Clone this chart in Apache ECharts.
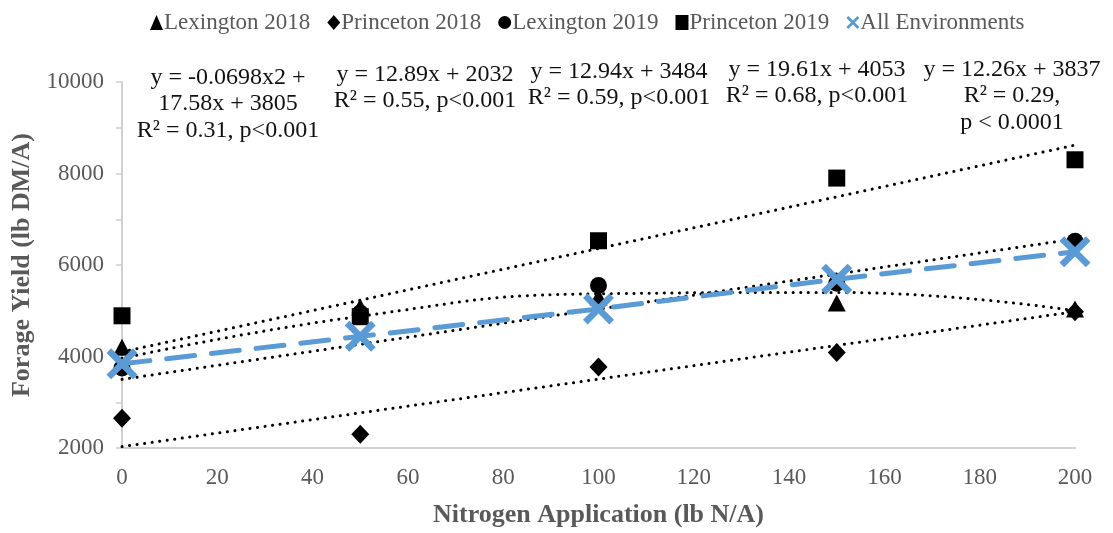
<!DOCTYPE html>
<html>
<head>
<meta charset="utf-8">
<script src="https://cdn.jsdelivr.net/npm/echarts@6/dist/echarts.min.js"></script>
<style>
  html, body { margin: 0; padding: 0; background: #ffffff; }
  #chart { width: 1113px; height: 533px; }
</style>
</head>
<body>
<div id="chart"></div>
<script>
// Nitrogen rates (lb N/A) and mean forage yield (lb DM/A) per environment
const nitrogen = [0, 50, 100, 150, 200];
const lexington2018 = [4200, 5080, 5300, 5170, 5040];
const princeton2018 = [2650, 2300, 3770, 4090, 4980];
const lexington2019 = [3750, 4950, 5550, 5600, 6520];
const princeton2019 = [4890, 4870, 6530, 7900, 8300];
const allEnvironments = [3840, 4440, 5040, 5690, 6290];

// Fitted trend lines: linear fits at the ends of the N range, quadratic at each rate
const trendEnds = [0, 200];
const trendPrinceton2019 = [4100, 8620];
const trendLexington2019 = [3500, 6570];
const trendPrinceton2018 = [2030, 4980];
const trendLexington2018 = [3960, 4880, 5370, 5400, 5000];

// Regression equations written above the plot
const equationLines = [
  ['y = -0.0698x2 +', '17.58x + 3805', 'R\u00b2 = 0.31, p<0.001'],
  ['y = 12.89x + 2032', 'R\u00b2 = 0.55, p<0.001'],
  ['y = 12.94x + 3484', 'R\u00b2 = 0.59, p<0.001'],
  ['y = 19.61x + 4053', 'R\u00b2 = 0.68, p<0.001'],
  ['y = 12.26x + 3837', 'R\u00b2 = 0.29,', 'p < 0.0001']
];
const equationAnchors = [[228, 64], [425, 61], [619, 58], [817, 56], [1012, 56]];

const xTickStep = 20;
const yMin = 2000, yMax = 10000, yTickStep = 1000;

const SERIF = '"Liberation Serif", "Times New Roman", serif';
const GREY = '#595959';
const BLUE = '#5B9BD5';
const X_MARK = 'path://M0,15 L15,0 L50,35 L85,0 L100,15 L65,50 L100,85 L85,100 L50,65 L15,100 L0,85 L35,50 Z';

const pairs = ys => nitrogen.map((x, i) => [x, ys[i]]);
const ends = ys => trendEnds.map((x, i) => [x, ys[i]]);

const dotted = { color: '#000', width: 3, type: [0.1, 7.5], cap: 'round' };

function scatter(name, ys, symbol, size) {
  return {
    name, type: 'scatter', data: pairs(ys), symbol, symbolSize: size,
    itemStyle: { color: '#000', opacity: 1 }, z: 2, silent: true
  };
}
function trend(data, smooth) {
  return {
    type: 'line', data, smooth: !!smooth, symbol: 'none', silent: true,
    lineStyle: dotted, z: 3
  };
}

const chart = echarts.init(document.getElementById('chart'), null, { renderer: 'canvas' });
chart.setOption({
  animation: false,
  backgroundColor: '#ffffff',
  grid: { left: 122, right: 38, top: 82, bottom: 80 },
  legend: {
    left: 145, top: 6, itemGap: 17, itemWidth: 13, itemHeight: 15,
    textStyle: { fontFamily: SERIF, fontSize: 23, color: GREY, padding: [0, 0, 0, -4] },
    data: [
      { name: 'Lexington 2018', icon: 'triangle' },
      { name: 'Princeton 2018', icon: 'diamond' },
      { name: 'Lexington 2019', icon: 'circle' },
      { name: 'Princeton 2019', icon: 'rect' },
      { name: 'All Environments', icon: X_MARK, itemStyle: { color: BLUE } }
    ]
  },
  xAxis: {
    type: 'value', min: 0, max: 200, interval: xTickStep,
    name: 'Nitrogen Application (lb N/A)', nameLocation: 'middle', nameGap: 54,
    nameTextStyle: { fontFamily: SERIF, fontSize: 26, fontWeight: 'bold', color: GREY },
    axisLine: { lineStyle: { color: '#D0D0D0', width: 2 } },
    axisTick: { show: false },
    axisLabel: { fontFamily: SERIF, fontSize: 23, color: GREY, margin: 18 },
    splitLine: { show: false }
  },
  yAxis: {
    type: 'value', min: yMin, max: yMax, interval: yTickStep,
    name: 'Forage Yield (lb DM/A)', nameLocation: 'middle', nameGap: 86,
    nameTextStyle: { fontFamily: SERIF, fontSize: 26, fontWeight: 'bold', color: GREY },
    axisLine: { show: true, lineStyle: { color: '#D0D0D0', width: 2 } },
    axisTick: { show: true, length: 6, lineStyle: { color: '#D0D0D0', width: 1.5 } },
    axisLabel: {
      fontFamily: SERIF, fontSize: 23, color: GREY, margin: 18,
      formatter: v => (v % 2000 === 0 ? String(v) : '')
    },
    splitLine: { show: false }
  },
  graphic: equationLines.map((lines, i) => ({
    type: 'text', silent: true,
    style: {
      text: lines.join('\n'),
      x: equationAnchors[i][0], y: equationAnchors[i][1],
      textAlign: 'center', textVerticalAlign: 'top',
      font: '24px ' + SERIF, lineHeight: 26.5, fill: '#111'
    }
  })),
  series: [
    scatter('Lexington 2018', lexington2018, 'triangle', [18, 17]),
    scatter('Princeton 2018', princeton2018, 'diamond', [18, 19]),
    scatter('Lexington 2019', lexington2019, 'circle', 17),
    scatter('Princeton 2019', princeton2019, 'rect', 17),
    trend(pairs(trendLexington2018), true),
    trend(ends(trendPrinceton2018)),
    trend(ends(trendLexington2019)),
    trend(ends(trendPrinceton2019)),
    {
      name: 'All Environments', type: 'line', data: pairs(allEnvironments),
      symbol: X_MARK, symbolSize: 31, showSymbol: true, silent: true,
      itemStyle: { color: BLUE },
      lineStyle: { color: BLUE, width: 5, type: [28, 17], cap: 'round' },
      z: 5
    }
  ]
});
</script>
</body>
</html>
